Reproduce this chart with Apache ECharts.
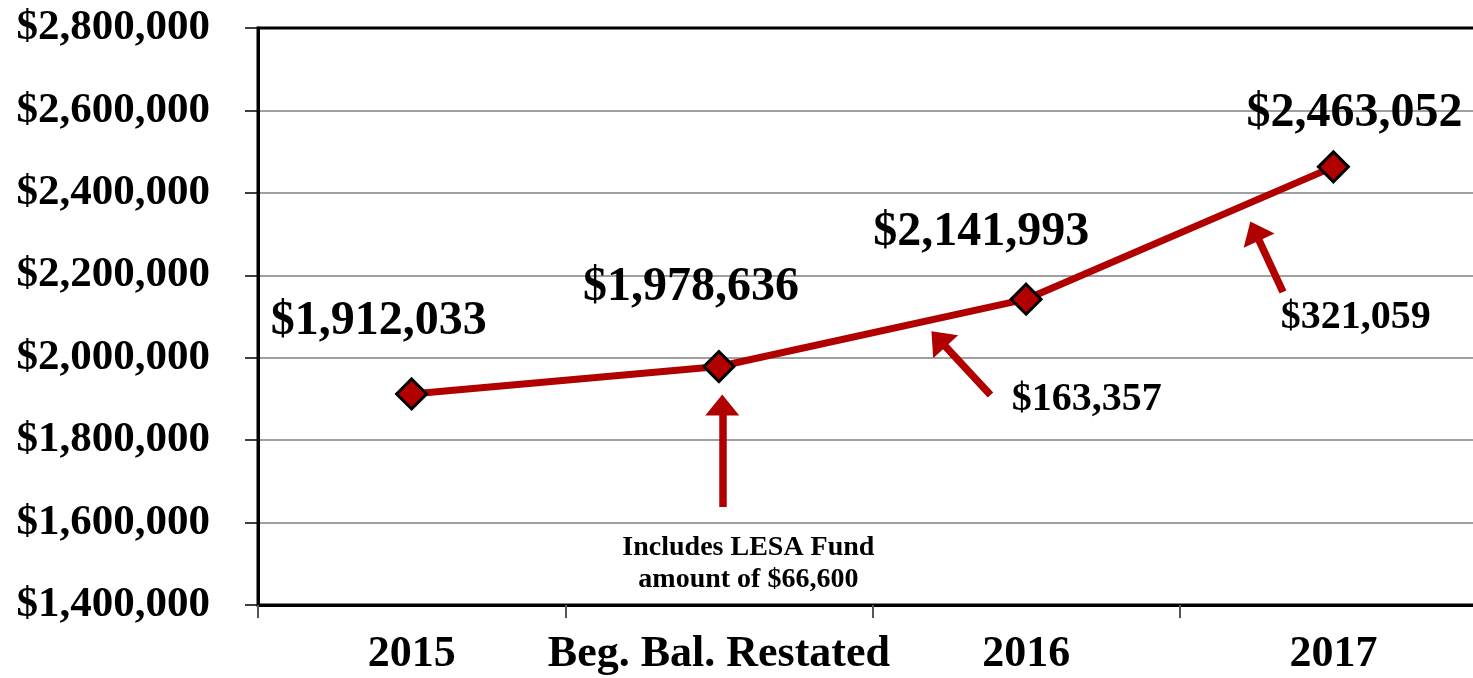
<!DOCTYPE html>
<html>
<head>
<meta charset="utf-8">
<title>Fund Balance</title>
<script src="https://cdn.jsdelivr.net/npm/echarts@6.0.0/dist/echarts.min.js"></script>
<style>
  html, body { margin: 0; padding: 0; background: #fff; }
  #chart { width: 1473px; height: 678px; }
</style>
</head>
<body>
<div id="chart"></div>
<script>
  // chart data
  const categories = ['2015', 'Beg. Bal. Restated', '2016', '2017'];
  const balances = [1912033, 1978636, 2141993, 2463052];
  const yMin = 1400000;
  const yMax = 2800000;
  const yStep = 200000;

  // annotation arrows, [from, to] in (category position, dollars)
  const arrows = [
    [[1.011, 1637774], [1.011, 1885262]],
    [[1.884, 1909526], [1.715, 2045402]],
    [[2.836, 2159441], [2.744, 2307449]]
  ];
  // annotation texts, anchored at (category position, dollars)
  const notes = [
    { x: 2.197, y: 1897394, text: '$163,357' },
    { x: 3.073, y: 2096355, text: '$321,059' },
    { x: 1.096, y: 1499471, text: 'Includes LESA Fund\namount of $66,600' }
  ];

  const font = 'Liberation Serif';
  const red = '#B00000';
  const fmt = (v) => '$' + v.toLocaleString('en-US');

  // where each value label sits relative to its marker
  const labelOffsets = [[-33, -72], [-28, -79], [-45, -67], [21, -53]];
  const noteSizes = [40, 40, 28];

  const chart = echarts.init(document.getElementById('chart'));
  chart.setOption({
    animation: false,
    grid: {
      left: 258,
      top: 28,
      right: -14,
      bottom: 73,
      show: true,
      borderColor: '#000',
      borderWidth: 3,
      outerBoundsMode: 'none'
    },
    xAxis: [
      {
        type: 'category',
        data: categories,
        boundaryGap: true,
        axisLine: { lineStyle: { color: '#000', width: 3 } },
        axisTick: {
          show: true,
          interval: 0,
          alignWithLabel: false,
          length: 13,
          lineStyle: { color: '#555', width: 2 }
        },
        axisLabel: {
          interval: 0,
          margin: 28,
          fontSize: 44,
          fontWeight: 'bold',
          fontFamily: font,
          color: '#000'
        }
      },
      {
        type: 'value',
        min: -0.5,
        max: 3.5,
        show: false
      }
    ],
    yAxis: {
      type: 'value',
      min: yMin,
      max: yMax,
      interval: yStep,
      axisLine: { show: true, onZero: false, lineStyle: { color: '#000', width: 3 } },
      axisTick: { show: true, length: 13, lineStyle: { color: '#000', width: 1.5 } },
      splitLine: { showMaxLine: false, lineStyle: { color: '#808080', width: 1.5 } },
      axisLabel: {
        margin: 48,
        fontSize: 43,
        fontWeight: 'bold',
        fontFamily: font,
        color: '#000',
        formatter: fmt
      }
    },
    series: [
      {
        type: 'lines',
        coordinateSystem: 'cartesian2d',
        xAxisIndex: 1,
        yAxisIndex: 0,
        silent: true,
        z: 1,
        symbol: ['none', 'triangle'],
        symbolSize: [0, [34, 21]],
        lineStyle: { color: red, width: 7.5, opacity: 1, curveness: 0 },
        data: arrows.map((a) => ({ coords: a }))
      },
      {
        type: 'scatter',
        xAxisIndex: 1,
        yAxisIndex: 0,
        silent: true,
        symbolSize: 1,
        itemStyle: { color: 'transparent', opacity: 1 },
        label: {
          show: true,
          position: 'inside',
          formatter: '{b}',
          fontWeight: 'bold',
          fontFamily: font,
          color: '#000',
          lineHeight: 32
        },
        data: notes.map((n, i) => ({
          name: n.text,
          value: [n.x, n.y],
          label: { fontSize: noteSizes[i] }
        }))
      },
      {
        type: 'line',
        z: 3,
        data: balances.map((v, i) => ({ value: v, label: { offset: labelOffsets[i] } })),
        symbol: 'diamond',
        symbolSize: 30,
        lineStyle: { color: red, width: 7 },
        itemStyle: { color: red, borderColor: '#000', borderWidth: 3 },
        label: {
          show: true,
          position: 'inside',
          fontSize: 48,
          fontWeight: 'bold',
          fontFamily: font,
          color: '#000',
          formatter: (p) => fmt(p.value)
        }
      }
    ]
  });
</script>
</body>
</html>
